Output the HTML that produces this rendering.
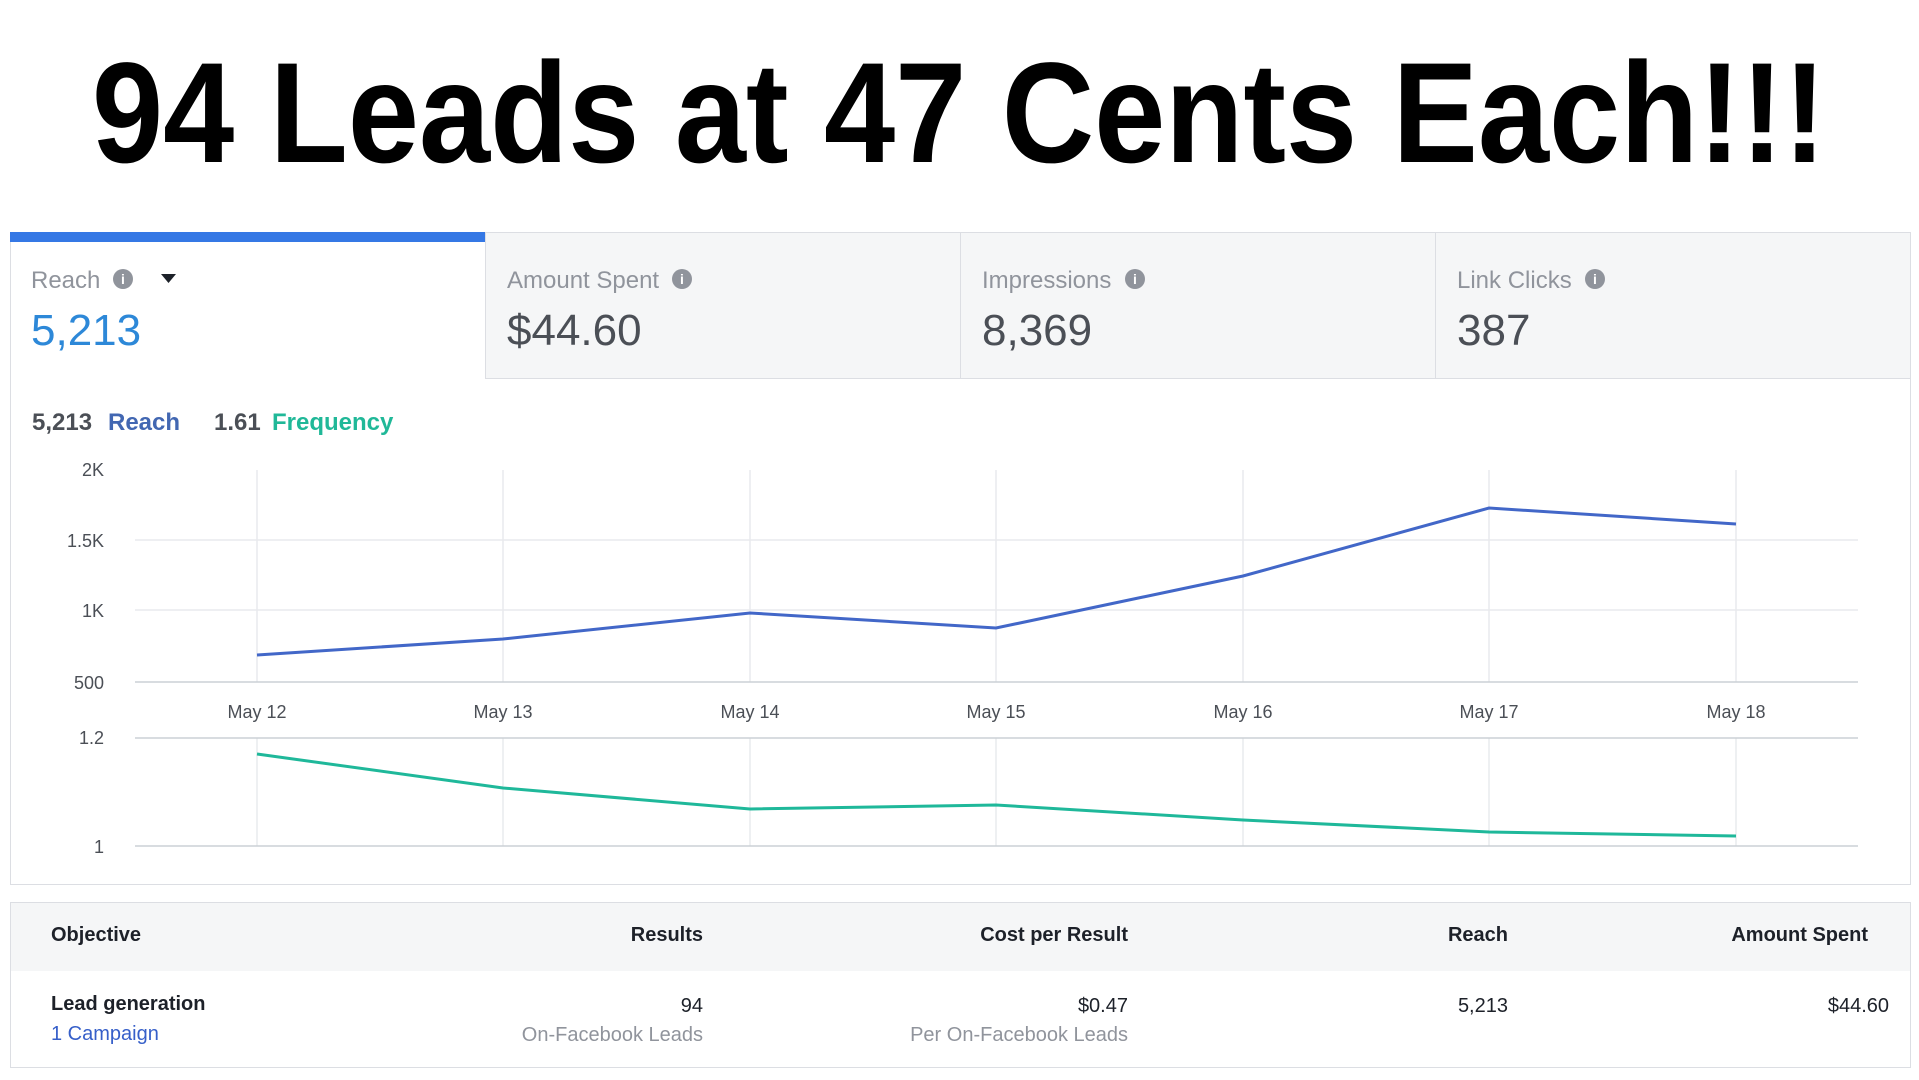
<!DOCTYPE html>
<html><head><meta charset="utf-8"><style>
html,body{margin:0;padding:0;background:#fff;width:1919px;height:1080px;overflow:hidden;font-family:"Liberation Sans",sans-serif}
</style></head><body>
<svg width="1919" height="1080" style="position:absolute;left:0;top:0" font-family="Liberation Sans, sans-serif">
<text x="92" y="162" font-size="143" font-weight="bold" textLength="1734" lengthAdjust="spacingAndGlyphs" fill="#000">94 Leads at 47 Cents Each!!!</text>
<rect x="10.5" y="232.5" width="1900" height="652" fill="#fff" stroke="#dcdee3"/>
<rect x="485" y="233" width="1425" height="145" fill="#f5f6f7"/>
<line x1="485" y1="378.5" x2="1910" y2="378.5" stroke="#dcdee3"/>
<line x1="485.5" y1="233" x2="485.5" y2="378" stroke="#dcdee3"/>
<line x1="960.5" y1="233" x2="960.5" y2="378" stroke="#dcdee3"/>
<line x1="1435.5" y1="233" x2="1435.5" y2="378" stroke="#dcdee3"/>
<rect x="10" y="232" width="475" height="10" fill="#3578e5"/>
<g font-size="24" fill="#90949c">
<text x="31" y="288">Reach</text><text x="507" y="288">Amount Spent</text><text x="982" y="288">Impressions</text><text x="1457" y="288">Link Clicks</text>
</g>
<g fill="#90949c"><circle cx="123" cy="279" r="10"/><circle cx="682" cy="279" r="10"/><circle cx="1135" cy="279" r="10"/><circle cx="1595" cy="279" r="10"/></g>
<g fill="#fff" font-size="14" font-weight="bold" text-anchor="middle"><text x="123" y="284">i</text><text x="682" y="284">i</text><text x="1135" y="284">i</text><text x="1595" y="284">i</text></g>
<path d="M161 274 L176 274 L168.5 283 Z" fill="#1d2129"/>
<text x="31" y="345" font-size="44" fill="#2d88d8">5,213</text>
<g font-size="44" fill="#4b4f56"><text x="507" y="345">$44.60</text><text x="982" y="345">8,369</text><text x="1457" y="345">387</text></g>
<g font-size="24" font-weight="bold"><text x="32" y="430" fill="#4b4f56">5,213</text><text x="108" y="430" fill="#4267b2">Reach</text><text x="214" y="430" fill="#4b4f56">1.61</text><text x="272" y="430" fill="#20b898">Frequency</text></g>
<g stroke="#e9eaed" stroke-width="1.5">
<line x1="135" y1="540" x2="1858" y2="540"/><line x1="135" y1="610" x2="1858" y2="610"/>
<line x1="257" y1="470" x2="257" y2="682"/><line x1="503" y1="470" x2="503" y2="682"/><line x1="750" y1="470" x2="750" y2="682"/><line x1="996" y1="470" x2="996" y2="682"/><line x1="1243" y1="470" x2="1243" y2="682"/><line x1="1489" y1="470" x2="1489" y2="682"/><line x1="1736" y1="470" x2="1736" y2="682"/>
<line x1="257" y1="738" x2="257" y2="846"/><line x1="503" y1="738" x2="503" y2="846"/><line x1="750" y1="738" x2="750" y2="846"/><line x1="996" y1="738" x2="996" y2="846"/><line x1="1243" y1="738" x2="1243" y2="846"/><line x1="1489" y1="738" x2="1489" y2="846"/><line x1="1736" y1="738" x2="1736" y2="846"/>
</g>
<g stroke="#ccd0d5" stroke-width="1.5"><line x1="135" y1="682" x2="1858" y2="682"/><line x1="135" y1="738" x2="1858" y2="738"/><line x1="135" y1="846" x2="1858" y2="846"/></g>
<g font-size="18" fill="#4b4f56" text-anchor="end"><text x="104" y="476">2K</text><text x="104" y="547">1.5K</text><text x="104" y="617">1K</text><text x="104" y="689">500</text><text x="104" y="744">1.2</text><text x="104" y="853">1</text></g>
<g font-size="18" fill="#4b4f56" text-anchor="middle"><text x="257" y="718">May 12</text><text x="503" y="718">May 13</text><text x="750" y="718">May 14</text><text x="996" y="718">May 15</text><text x="1243" y="718">May 16</text><text x="1489" y="718">May 17</text><text x="1736" y="718">May 18</text></g>
<polyline fill="none" stroke="#4267c8" stroke-width="3" points="257,655 503,639 750,613 996,628 1243,576 1489,508 1736,524"/>
<polyline fill="none" stroke="#1fb89a" stroke-width="3" points="257,754 503,788 750,809 996,805 1243,820 1489,832 1736,836"/>
<rect x="10.5" y="902.5" width="1900" height="165" fill="#fff" stroke="#dcdee3"/>
<rect x="11" y="903" width="1899" height="68" fill="#f5f6f7"/>
<g font-size="20" font-weight="bold" fill="#1d2129"><text x="51" y="941">Objective</text><text x="703" y="941" text-anchor="end">Results</text><text x="1128" y="941" text-anchor="end">Cost per Result</text><text x="1508" y="941" text-anchor="end">Reach</text><text x="1868" y="941" text-anchor="end">Amount Spent</text><text x="51" y="1010">Lead generation</text></g>
<g font-size="20" fill="#1d2129" text-anchor="end"><text x="703" y="1012">94</text><text x="1128" y="1012">$0.47</text><text x="1508" y="1012">5,213</text><text x="1889" y="1012">$44.60</text></g>
<text x="51" y="1040" font-size="20" fill="#365fc9">1 Campaign</text>
<g font-size="20" fill="#90949c" text-anchor="end"><text x="703" y="1041">On-Facebook Leads</text><text x="1128" y="1041">Per On-Facebook Leads</text></g>
</svg>
</body></html>
